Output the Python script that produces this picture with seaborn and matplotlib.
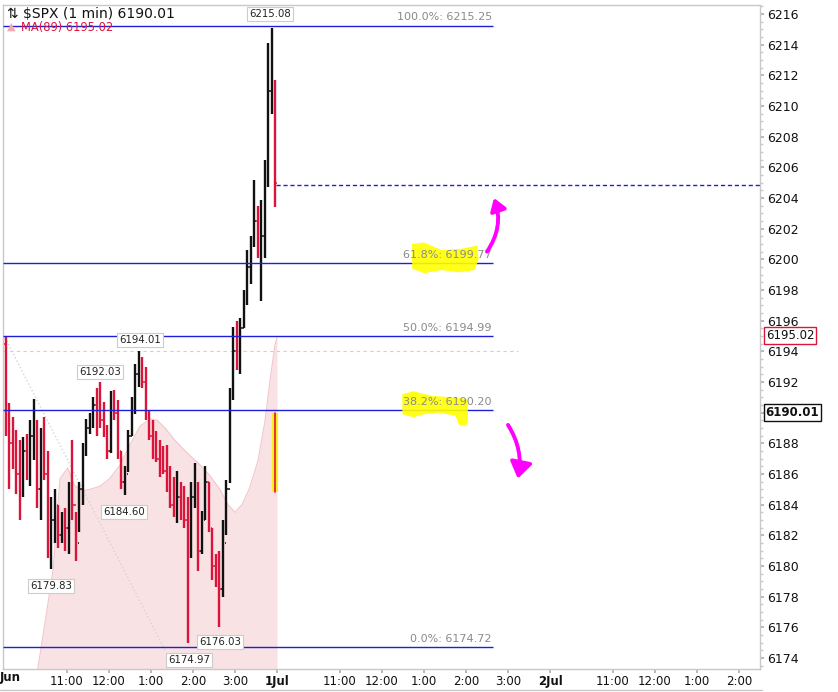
import matplotlib
matplotlib.use('Agg')
import matplotlib.pyplot as plt
from matplotlib.lines import Line2D
from matplotlib.patches import Polygon
import numpy as np
import pandas as pd
import seaborn as sns

sns.set_theme(style='white')
plt.rcParams['font.family'] = ['DejaVu Sans']

# ---- data ----
# 5-minute bars for Jun 30, x = minutes after the 9:30 open
bar_start = list(range(0, 390, 5))
highs = [6195.0, 6190.6, 6189.7, 6188.9, 6188.2, 6188.4, 6188.6, 6189.5, 6190.9, 6189.5,
         6189.0, 6189.7, 6187.5, 6184.5, 6185.0, 6184.0, 6183.5, 6183.8, 6185.5, 6188.2,
         6183.5, 6185.5, 6188.0, 6189.6, 6190.0, 6191.0, 6191.6, 6192.03, 6190.7, 6189.2,
         6191.4, 6191.5, 6190.8, 6187.5, 6186.5, 6188.9, 6191.0, 6193.2, 6194.01, 6193.6,
         6193.0, 6190.2, 6189.5, 6188.8, 6188.2, 6187.8, 6187.9, 6186.5, 6185.8, 6186.2,
         6185.5, 6185.2, 6184.5, 6185.5, 6186.7, 6185.5, 6183.6, 6186.5, 6185.5, 6182.5,
         6180.8, 6181.0, 6183.0, 6185.6, 6191.6, 6195.6, 6196.0, 6196.2, 6198.0, 6200.6,
         6201.5, 6205.2, 6203.5, 6203.9, 6206.5, 6214.1, 6215.08, 6211.7]
lows = [6188.5, 6185.0, 6186.3, 6184.7, 6183.0, 6184.5, 6185.6, 6185.2, 6186.9, 6183.8,
        6183.0, 6185.6, 6180.5, 6179.83, 6181.5, 6181.2, 6181.5, 6181.0, 6180.8, 6183.0,
        6180.3, 6182.2, 6184.0, 6187.2, 6188.6, 6189.0, 6188.5, 6189.0, 6188.4, 6187.0,
        6187.4, 6189.5, 6187.0, 6185.0, 6184.6, 6186.1, 6188.5, 6189.9, 6191.7, 6191.6,
        6189.5, 6188.2, 6187.0, 6186.8, 6185.8, 6186.0, 6184.8, 6183.8, 6183.2, 6182.8,
        6183.0, 6182.5, 6174.97, 6180.5, 6183.8, 6179.7, 6180.8, 6183.0, 6182.2, 6179.1,
        6178.6, 6176.03, 6178.0, 6182.0, 6185.4, 6190.8, 6192.8, 6192.5, 6195.5, 6197.0,
        6198.4, 6200.8, 6200.1, 6197.3, 6200.1, 6204.7, 6209.5, 6203.4]
closes = [6189.0, 6188.0, 6187.0, 6186.0, 6185.0, 6187.5, 6186.5, 6188.5, 6189.0, 6185.0,
          6187.5, 6186.0, 6182.0, 6183.0, 6184.0, 6182.0, 6183.0, 6182.5, 6184.5, 6184.0,
          6181.5, 6185.0, 6187.5, 6189.0, 6189.5, 6190.5, 6190.0, 6189.5, 6189.0, 6187.5,
          6190.8, 6190.0, 6187.5, 6185.5, 6186.0, 6188.5, 6190.5, 6192.5, 6193.0, 6192.0,
          6190.0, 6188.5, 6187.5, 6187.0, 6186.5, 6186.2, 6185.0, 6184.0, 6183.5, 6184.5,
          6183.5, 6183.0, 6181.5, 6184.5, 6185.0, 6181.0, 6183.0, 6185.5, 6182.5, 6180.0,
          6179.5, 6178.5, 6181.5, 6185.0, 6191.0, 6194.0, 6193.5, 6195.5, 6197.5, 6199.5,
          6201.0, 6202.5, 6201.0, 6201.5, 6205.5, 6211.0, 6211.0, 6204.95]
first_open = 6194.5

# MA(89) area
ma_minute = [48, 70, 80, 91, 100, 110, 123, 137, 151, 166, 180, 194, 209, 219, 230,
             244, 261, 280, 294, 309, 320, 330, 340, 351, 363, 373, 380, 387, 390]
ma_value = [6173.2, 6179.7, 6185.7, 6186.4, 6185.3, 6184.9, 6185.0, 6185.2, 6185.7, 6186.6,
            6187.9, 6189.1, 6189.6, 6189.5, 6189.0, 6188.2, 6187.4, 6186.6, 6185.9, 6184.95,
            6184.0, 6183.5, 6184.0, 6185.1, 6186.9, 6189.5, 6192.1, 6194.4, 6194.9]

# Fibonacci retracement
fib_levels = [6215.25, 6199.77, 6194.99, 6190.20, 6174.72]
fib_labels = ['100.0%: 6215.25', '61.8%: 6199.77', '50.0%: 6194.99',
              '38.2%: 6190.20', '0.0%: 6174.72']
fib_end = 698

# swing high / low tags
peak_text = ['6215.08', '6194.01', '6192.03', '6184.60', '6179.83', '6176.03', '6174.97']
peak_x = [380, 194, 137, 171, 67, 309, 264]
peak_y = [6216.0, 6194.73, 6192.65, 6183.51, 6178.69, 6175.03, 6173.86]

close_prev = 6204.85
last_price = 6190.01
ma_last = 6195.02
swing_line = 6194.0
diag_x = [1.4, 230]
diag_y = [6194.9, 6174.5]
open_bar_x = 387
open_bar = [6184.8, 6190.0]

# hand-drawn marks
hl_618_x = [583, 600, 625, 655, 676, 678, 672, 650, 625, 600, 583]
hl_618_y = [6201.0, 6201.1, 6200.6, 6200.7, 6200.9, 6200.0, 6199.3, 6199.15, 6199.3, 6199.1, 6199.4]
hl_382_x = [569, 585, 610, 640, 662, 663, 660, 650, 645, 620, 600, 585, 569]
hl_382_y = [6191.2, 6191.4, 6191.1, 6191.0, 6190.9, 6189.5, 6189.1, 6189.2, 6189.8, 6190.0,
            6189.9, 6189.7, 6189.9]
arrow_up = [(690, 6200.5), (700, 6204.0)]
arrow_down = [(720, 6189.2), (734, 6185.7)]

ytick_pos = list(range(6174, 6217, 2))
xtick_pos = [90, 150, 210, 270, 330, 390, 480, 540, 600, 660, 720, 780, 870, 930, 990, 1050]
xtick_lab = ['11:00', '12:00', '1:00', '2:00', '3:00', '1Jul', '11:00', '12:00', '1:00',
             '2:00', '3:00', '2Jul', '11:00', '12:00', '1:00', '2:00']

# ---- figure ----
fig = plt.figure(figsize=(8.38, 6.92), dpi=100)
ax = fig.add_axes([3 / 838, 23 / 692, 757 / 838, 664 / 692])
ax.set_xlim(-1.43, 1080)
ax.set_ylim(6173.28, 6216.59)

BLUE = '#1f1fd8'
RED = '#dc143c'

# MA area
ax.fill_between(ma_minute, ma_value, 6170, color='#f8e2e4', lw=0, zorder=1)
sns.lineplot(x=ma_minute, y=ma_value, color='#f0c6cb', lw=0.8, ax=ax, zorder=1)

# helper lines
ax.hlines(swing_line, -1.43, 734, color='#cfcfcf', lw=0.8, linestyles=(0, (3, 3)), zorder=2)
ax.plot(diag_x, diag_y, color='#d4d4d4', lw=1, ls=':', zorder=2)

# OHLC bars
df = pd.DataFrame({'minute': [m + 2.5 for m in bar_start], 'high': highs, 'low': lows,
                   'close': closes})
df['open'] = [first_open] + closes[:-1]
df['color'] = np.where(df['close'] >= df['open'], '#111111', RED)
ax.vlines(df['minute'], df['low'], df['high'], colors=df['color'], lw=1.7, zorder=3)
ax.hlines(df['open'], df['minute'] - 1.9, df['minute'], colors=df['color'], lw=1.1, zorder=3)
ax.hlines(df['close'], df['minute'], df['minute'] + 1.9, colors=df['color'], lw=1.1, zorder=3)

# highlighted opening bar
ax.plot([open_bar_x] * 2, open_bar, color='#ffee22', lw=4.5, solid_capstyle='butt', zorder=3)
ax.plot([open_bar_x] * 2, open_bar, color=RED, lw=1.2, zorder=3)

# Fibonacci
ax.hlines(fib_levels, -1.43, fib_end, color=BLUE, lw=1.0, zorder=4)
for lvl, lab in zip(fib_levels, fib_labels):
    ax.text(fib_end - 1, lvl + 0.2, lab, ha='right', va='bottom', fontsize=8,
            color='#8a8a8a', zorder=6)
ax.hlines(close_prev, 388.6, 1080, color=BLUE, lw=1, linestyles=(0, (3, 2)), zorder=4)

# highlighter strokes
ax.add_patch(Polygon(list(zip(hl_618_x, hl_618_y)), closed=True, fc='#ffff00', ec='none',
                     alpha=0.9, zorder=5))
ax.add_patch(Polygon(list(zip(hl_382_x, hl_382_y)), closed=True, fc='#ffff00', ec='none',
                     alpha=0.9, zorder=5))
ax.annotate('', xy=arrow_up[1], xytext=arrow_up[0], zorder=7,
            arrowprops=dict(arrowstyle='-|>,head_width=0.4,head_length=0.6', color='#ff00ff',
                            lw=2.8, connectionstyle='arc3,rad=0.25', shrinkA=0, shrinkB=0))
ax.annotate('', xy=arrow_down[1], xytext=arrow_down[0], zorder=7,
            arrowprops=dict(arrowstyle='-|>,head_width=0.55,head_length=0.8', color='#ff00ff',
                            lw=2.8, connectionstyle='arc3,rad=-0.2', shrinkA=0, shrinkB=0))

# swing tags
for t, x, y in zip(peak_text, peak_x, peak_y):
    ax.text(x, y, t, ha='center', va='center', fontsize=7.3, color='#222222', zorder=8,
            bbox=dict(boxstyle='square,pad=0.2', fc='white', ec='#cccccc', lw=0.8))

# axes styling
for side in ['left', 'right', 'top', 'bottom']:
    ax.spines[side].set_color('#c8c8c8')
    ax.spines[side].set_linewidth(1)
ax.yaxis.tick_right()
ax.set_yticks(ytick_pos)
# the 6190 label sits under the last-price tag in the reference
ax.set_yticklabels(['' if v == 6190 else str(v) for v in ytick_pos])
ax.set_yticks(np.arange(6173.5, 6216.6, 0.5), minor=True)
ax.tick_params(axis='y', which='major', length=3, color='#b0b0b0', labelsize=9, pad=2,
               labelcolor='#111111', right=True, left=False)
ax.tick_params(axis='y', which='minor', length=2, color='#c8c8c8', right=True, left=False)
ax.set_xticks(xtick_pos)
ax.set_xticklabels(xtick_lab)
ax.tick_params(axis='x', length=3, color='#b0b0b0', labelsize=8.5, pad=1.5,
               labelcolor='#111111', bottom=True)
for lab in ax.get_xticklabels():
    if 'Jul' in lab.get_text():
        lab.set_fontweight('bold')
ax.grid(False)

# price tags on the right axis
ax.text(1.0075, ma_last, f'{ma_last:.2f}', transform=ax.get_yaxis_transform(), ha='left',
        va='center', fontsize=8.5, color='#111111', zorder=9, clip_on=False,
        bbox=dict(boxstyle='square,pad=0.15', fc='white', ec=RED, lw=1))
ax.text(1.0075, last_price, f'{last_price:.2f}', transform=ax.get_yaxis_transform(),
        ha='left', va='center', fontsize=8.5, fontweight='bold', color='#111111', zorder=9,
        clip_on=False, bbox=dict(boxstyle='square,pad=0.15', fc='white', ec='#111111', lw=1))

# header
fig.text(7 / 838, 1 - 14 / 692, '⇅ \\$SPX (1 min) 6190.01', fontsize=10, va='center',
         color='#111111')
fig.text(7 / 838, 1 - 27 / 692, '▲', fontsize=8, va='center', color='#f2a7b3')
fig.text(21 / 838, 1 - 27 / 692, 'MA(89) 6195.02', fontsize=8.3, va='center', color=RED)
fig.text(0, 14 / 692, 'Jun', fontsize=8.5, fontweight='bold', va='center', color='#111111')
fig.add_artist(Line2D([0, 762 / 838], [2 / 692, 2 / 692], color='#c8c8c8', lw=1,
                      transform=fig.transFigure))

fig.savefig('out.png', dpi=100)
